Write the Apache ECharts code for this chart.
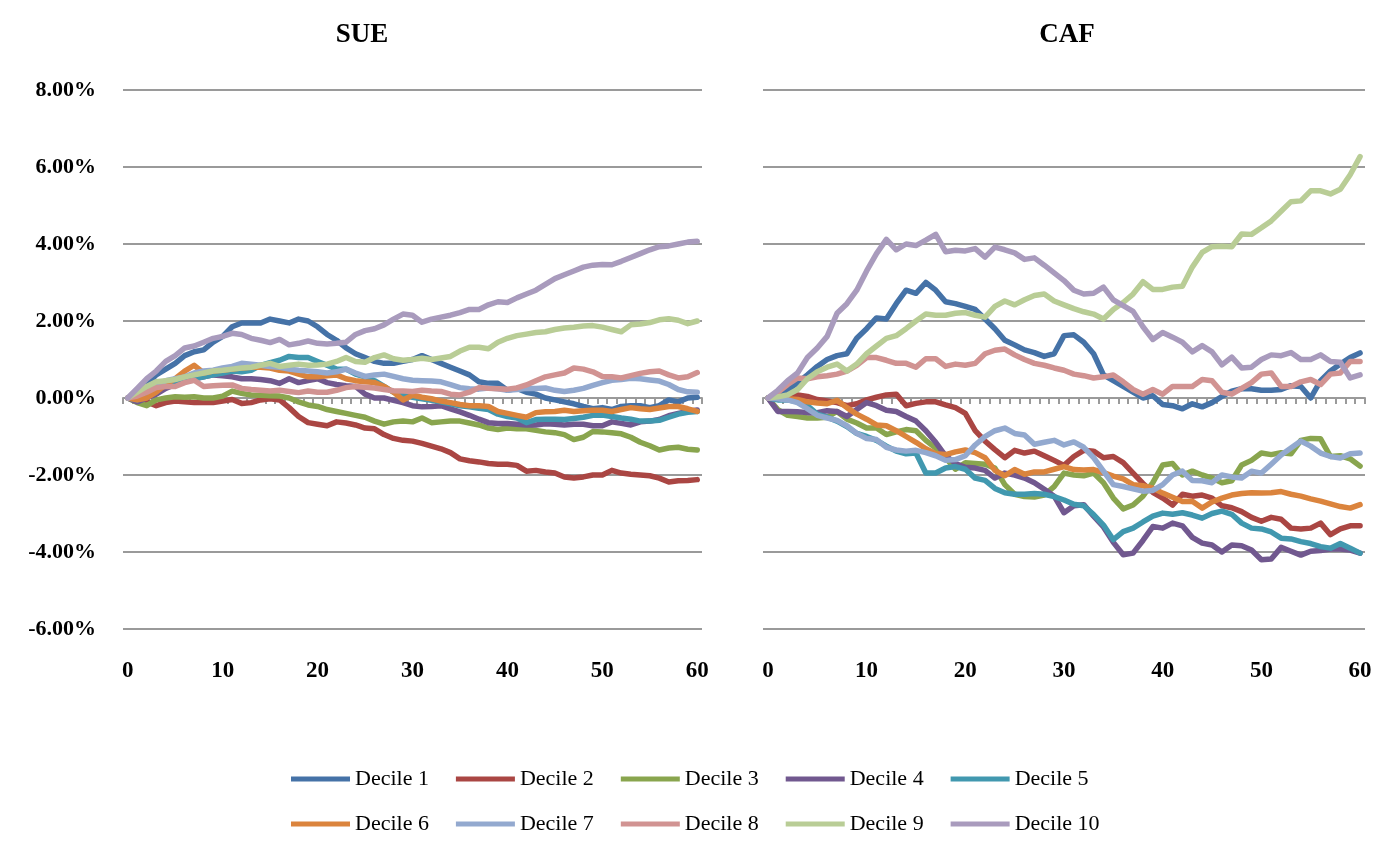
<!DOCTYPE html>
<html>
<head>
<meta charset="utf-8">
<script src="https://cdn.jsdelivr.net/npm/echarts@6/dist/echarts.min.js"></script>
<style>
html,body{margin:0;padding:0;background:#fff;}
#chart{width:1380px;height:849px;}
</style>
</head>
<body>
<div id="chart"></div>
<script>
// x categories (trading days 0..60)
const days = Array.from({length: 61}, (_, i) => String(i));
const seriesNames = ['Decile 1','Decile 2','Decile 3','Decile 4','Decile 5','Decile 6','Decile 7','Decile 8','Decile 9','Decile 10'];
const panelTitles = ['SUE', 'CAF'];
const yTicks = [-6, -4, -2, 0, 2, 4, 6, 8];

// SUE panel, cumulative returns in percent
const sueD1 = [0,0.15,0.35,0.6,0.75,0.9,1.1,1.2,1.25,1.45, 1.6,1.85,1.95,1.95,1.95,2.05,2.0,1.95,2.05,2.0, 1.85,1.65,1.5,1.3,1.15,1.05,0.95,0.9,0.9,0.95, 1.0,1.1,1.0,0.9,0.8,0.7,0.6,0.42,0.38,0.38, 0.2,0.25,0.15,0.1,0.0,-0.05,-0.1,-0.15,-0.22,-0.28, -0.25,-0.3,-0.22,-0.2,-0.2,-0.25,-0.2,-0.05,-0.1,0.0,0.02];
const sueD2 = [0,-0.05,-0.1,-0.2,-0.12,-0.08,-0.1,-0.12,-0.12,-0.12, -0.08,-0.04,-0.14,-0.12,-0.05,-0.02,-0.05,-0.25,-0.48,-0.64, -0.68,-0.72,-0.62,-0.65,-0.7,-0.78,-0.8,-0.95,-1.05,-1.1, -1.12,-1.18,-1.25,-1.32,-1.42,-1.58,-1.63,-1.66,-1.7,-1.72, -1.72,-1.75,-1.9,-1.88,-1.92,-1.95,-2.05,-2.08,-2.05,-2.0, -2.0,-1.88,-1.95,-1.98,-2.0,-2.02,-2.08,-2.18,-2.15,-2.14,-2.12];
const sueD3 = [0,-0.12,-0.2,-0.05,0.0,0.03,0.02,0.03,0.0,0.0, 0.05,0.18,0.12,0.08,0.07,0.06,0.05,0.0,-0.1,-0.18, -0.22,-0.3,-0.35,-0.4,-0.45,-0.5,-0.6,-0.68,-0.62,-0.6, -0.62,-0.52,-0.64,-0.62,-0.6,-0.6,-0.65,-0.7,-0.78,-0.82, -0.78,-0.8,-0.8,-0.84,-0.88,-0.9,-0.95,-1.08,-1.02,-0.87, -0.88,-0.9,-0.93,-1.02,-1.15,-1.24,-1.35,-1.3,-1.28,-1.33,-1.35];
const sueD4 = [0,-0.1,0.0,0.1,0.25,0.35,0.42,0.5,0.55,0.6, 0.58,0.55,0.5,0.5,0.48,0.45,0.38,0.5,0.4,0.45, 0.5,0.4,0.35,0.32,0.3,0.1,0.0,0.0,-0.06,-0.12, -0.2,-0.23,-0.22,-0.2,-0.28,-0.36,-0.45,-0.55,-0.64,-0.66, -0.66,-0.68,-0.7,-0.7,-0.67,-0.68,-0.7,-0.68,-0.68,-0.72, -0.72,-0.62,-0.66,-0.7,-0.62,-0.6,-0.56,-0.46,-0.4,-0.35,-0.31];
const sueD5 = [0,-0.05,0.05,0.2,0.35,0.45,0.45,0.5,0.55,0.6, 0.65,0.7,0.68,0.72,0.85,0.92,0.98,1.08,1.05,1.05, 0.95,0.85,0.75,0.75,0.62,0.55,0.45,0.3,0.15,0.07, 0.02,-0.02,-0.06,-0.1,-0.15,-0.2,-0.23,-0.27,-0.3,-0.42, -0.48,-0.52,-0.64,-0.56,-0.55,-0.55,-0.56,-0.53,-0.5,-0.45, -0.44,-0.48,-0.52,-0.55,-0.6,-0.6,-0.58,-0.5,-0.42,-0.37,-0.35];
const sueD6 = [0,-0.05,0.0,0.15,0.35,0.5,0.7,0.85,0.65,0.7, 0.72,0.75,0.78,0.8,0.8,0.78,0.72,0.7,0.62,0.55, 0.55,0.58,0.6,0.5,0.45,0.42,0.4,0.3,0.15,-0.05, 0.07,0.02,-0.02,-0.08,-0.12,-0.17,-0.2,-0.2,-0.22,-0.35, -0.4,-0.45,-0.5,-0.38,-0.36,-0.35,-0.32,-0.35,-0.33,-0.32, -0.32,-0.35,-0.3,-0.25,-0.28,-0.3,-0.26,-0.22,-0.22,-0.28,-0.35];
const sueD7 = [0,0.1,0.2,0.35,0.45,0.5,0.55,0.65,0.7,0.72, 0.78,0.82,0.9,0.88,0.85,0.82,0.8,0.75,0.72,0.7, 0.68,0.65,0.68,0.75,0.65,0.56,0.6,0.62,0.56,0.5, 0.46,0.45,0.44,0.42,0.35,0.27,0.24,0.23,0.26,0.24, 0.2,0.22,0.25,0.25,0.26,0.2,0.17,0.2,0.25,0.33, 0.4,0.46,0.48,0.51,0.5,0.47,0.44,0.35,0.22,0.16,0.15];
const sueD8 = [0,0.05,0.15,0.27,0.3,0.3,0.4,0.46,0.3,0.32, 0.33,0.34,0.25,0.22,0.2,0.18,0.2,0.17,0.14,0.18, 0.15,0.15,0.2,0.27,0.3,0.28,0.26,0.22,0.19,0.18, 0.17,0.2,0.18,0.17,0.1,0.08,0.15,0.27,0.25,0.24, 0.23,0.26,0.34,0.45,0.55,0.6,0.65,0.78,0.75,0.68, 0.56,0.55,0.52,0.58,0.64,0.68,0.7,0.6,0.52,0.55,0.66];
const sueD9 = [0,0.15,0.3,0.42,0.45,0.48,0.55,0.6,0.65,0.7, 0.72,0.75,0.78,0.8,0.85,0.9,0.82,0.85,0.88,0.85, 0.86,0.88,0.95,1.05,0.95,0.93,1.05,1.12,1.02,0.98, 1.0,1.03,1.0,1.04,1.08,1.22,1.32,1.32,1.28,1.45, 1.55,1.62,1.66,1.7,1.72,1.78,1.82,1.84,1.87,1.88, 1.84,1.78,1.72,1.9,1.92,1.96,2.03,2.06,2.02,1.93,2.0];
const sueD10 = [0,0.25,0.5,0.7,0.95,1.1,1.3,1.35,1.45,1.55, 1.6,1.68,1.65,1.55,1.5,1.44,1.52,1.38,1.42,1.48, 1.42,1.4,1.42,1.45,1.65,1.75,1.8,1.9,2.05,2.18, 2.15,1.97,2.05,2.1,2.15,2.22,2.3,2.3,2.42,2.5, 2.48,2.6,2.7,2.8,2.95,3.1,3.2,3.3,3.4,3.45, 3.47,3.46,3.55,3.65,3.75,3.85,3.93,3.95,4.0,4.05,4.07];

// CAF panel, cumulative returns in percent
const cafD1 = [0,0.1,0.2,0.4,0.6,0.82,1.0,1.1,1.15,1.55, 1.8,2.08,2.05,2.45,2.8,2.72,3.0,2.8,2.5,2.45, 2.38,2.3,2.05,1.8,1.5,1.38,1.25,1.18,1.08,1.15, 1.62,1.64,1.45,1.15,0.6,0.45,0.3,0.15,0.0,0.06, -0.17,-0.2,-0.28,-0.15,-0.23,-0.12,0.04,0.18,0.24,0.24, 0.2,0.2,0.22,0.32,0.3,0.0,0.45,0.7,0.88,1.05,1.17];
const cafD2 = [0,0.02,0.05,0.08,0.04,-0.04,-0.08,-0.12,-0.2,-0.15, -0.05,0.02,0.08,0.1,-0.2,-0.14,-0.1,-0.1,-0.18,-0.25, -0.4,-0.85,-1.12,-1.34,-1.55,-1.36,-1.43,-1.38,-1.5,-1.62, -1.75,-1.52,-1.36,-1.38,-1.55,-1.52,-1.68,-1.95,-2.22,-2.45, -2.6,-2.78,-2.5,-2.55,-2.52,-2.6,-2.8,-2.85,-2.95,-3.1, -3.2,-3.1,-3.15,-3.38,-3.4,-3.38,-3.25,-3.55,-3.4,-3.32,-3.32];
const cafD3 = [0,-0.3,-0.45,-0.48,-0.52,-0.52,-0.5,-0.35,-0.55,-0.65, -0.78,-0.78,-0.95,-0.88,-0.82,-0.85,-1.1,-1.3,-1.55,-1.85, -1.68,-1.7,-1.72,-1.82,-2.25,-2.5,-2.56,-2.57,-2.52,-2.3, -1.95,-2.0,-2.02,-1.95,-2.2,-2.6,-2.88,-2.78,-2.55,-2.2, -1.74,-1.7,-2.0,-1.9,-2.0,-2.08,-2.2,-2.15,-1.74,-1.62, -1.43,-1.47,-1.42,-1.45,-1.1,-1.05,-1.06,-1.52,-1.5,-1.58,-1.77];
const cafD4 = [0,-0.35,-0.35,-0.36,-0.38,-0.38,-0.33,-0.35,-0.48,-0.3, -0.12,-0.2,-0.32,-0.35,-0.48,-0.6,-0.85,-1.15,-1.5,-1.7, -1.8,-1.82,-1.88,-2.08,-1.95,-2.0,-2.08,-2.2,-2.37,-2.55, -2.98,-2.8,-2.77,-3.07,-3.35,-3.75,-4.07,-4.03,-3.7,-3.34, -3.38,-3.25,-3.32,-3.62,-3.77,-3.82,-4.0,-3.82,-3.84,-3.95, -4.2,-4.18,-3.88,-3.98,-4.08,-3.98,-3.96,-3.92,-3.92,-3.95,-4.03];
const cafD5 = [0,-0.05,-0.05,-0.1,-0.2,-0.42,-0.5,-0.6,-0.74,-0.92, -1.0,-1.1,-1.25,-1.38,-1.45,-1.43,-1.95,-1.95,-1.82,-1.78, -1.85,-2.08,-2.14,-2.35,-2.46,-2.5,-2.5,-2.48,-2.5,-2.56, -2.65,-2.76,-2.8,-3.03,-3.3,-3.68,-3.47,-3.38,-3.22,-3.07, -2.99,-3.02,-2.98,-3.04,-3.12,-3.0,-2.94,-3.02,-3.25,-3.38, -3.4,-3.48,-3.64,-3.66,-3.73,-3.78,-3.86,-3.9,-3.78,-3.9,-4.03];
const cafD6 = [0,0.0,-0.02,-0.04,-0.1,-0.13,-0.15,-0.06,-0.25,-0.42, -0.55,-0.7,-0.72,-0.85,-1.0,-1.15,-1.32,-1.45,-1.47,-1.4, -1.35,-1.42,-1.55,-1.88,-2.02,-1.86,-1.98,-1.92,-1.92,-1.85, -1.78,-1.86,-1.87,-1.86,-1.94,-2.03,-2.1,-2.25,-2.28,-2.34, -2.47,-2.58,-2.69,-2.68,-2.86,-2.7,-2.6,-2.52,-2.48,-2.46, -2.47,-2.46,-2.43,-2.5,-2.55,-2.62,-2.68,-2.75,-2.82,-2.86,-2.77];
const cafD7 = [0,-0.02,-0.05,-0.12,-0.28,-0.45,-0.52,-0.58,-0.72,-0.92, -1.05,-1.08,-1.28,-1.35,-1.38,-1.36,-1.42,-1.5,-1.62,-1.6, -1.5,-1.22,-1.0,-0.85,-0.78,-0.92,-0.96,-1.2,-1.15,-1.1, -1.22,-1.14,-1.28,-1.55,-1.9,-2.25,-2.3,-2.36,-2.42,-2.4, -2.25,-2.0,-1.9,-2.14,-2.15,-2.2,-2.0,-2.05,-2.08,-1.9, -1.95,-1.72,-1.48,-1.3,-1.12,-1.25,-1.43,-1.52,-1.56,-1.45,-1.43];
const cafD8 = [0,0.15,0.35,0.52,0.5,0.55,0.58,0.62,0.7,0.85, 1.05,1.05,0.98,0.9,0.9,0.8,1.02,1.02,0.82,0.88, 0.85,0.9,1.15,1.24,1.27,1.12,1.0,0.9,0.85,0.78, 0.72,0.62,0.58,0.52,0.55,0.6,0.42,0.22,0.1,0.22, 0.1,0.3,0.3,0.3,0.48,0.45,0.15,0.1,0.25,0.4, 0.62,0.65,0.3,0.3,0.42,0.48,0.35,0.62,0.65,0.95,0.95];
const cafD9 = [0,0.03,0.08,0.22,0.5,0.68,0.8,0.88,0.7,0.88, 1.15,1.35,1.55,1.62,1.8,2.0,2.18,2.15,2.15,2.2, 2.22,2.15,2.1,2.38,2.52,2.42,2.55,2.66,2.7,2.52, 2.42,2.32,2.24,2.18,2.05,2.3,2.48,2.7,3.02,2.82, 2.82,2.88,2.9,3.4,3.78,3.93,3.94,3.93,4.26,4.25, 4.42,4.6,4.85,5.1,5.12,5.38,5.38,5.3,5.42,5.8,6.27];
const cafD10 = [0,0.2,0.45,0.65,1.05,1.3,1.6,2.2,2.45,2.8, 3.3,3.75,4.12,3.85,4.0,3.96,4.1,4.25,3.8,3.84, 3.82,3.88,3.66,3.92,3.85,3.77,3.6,3.64,3.45,3.25, 3.05,2.8,2.7,2.72,2.88,2.55,2.4,2.25,1.85,1.52, 1.7,1.58,1.45,1.2,1.36,1.2,0.86,1.06,0.78,0.8, 1.0,1.12,1.1,1.18,1.0,1.0,1.12,0.95,0.93,0.52,0.6];

const sueData = [sueD1,sueD2,sueD3,sueD4,sueD5,sueD6,sueD7,sueD8,sueD9,sueD10];
const cafData = [cafD1,cafD2,cafD3,cafD4,cafD5,cafD6,cafD7,cafD8,cafD9,cafD10];
const colors = ['#4572A7','#AA4643','#89A54E','#71588F','#4198AF','#DB843D','#93A9CF','#D19392','#B9CD96','#A99BBD'];

const SERIF = '"Liberation Serif", "Times New Roman", serif';
const chart = echarts.init(document.getElementById('chart'));

function labelAxis(grid) {
  return {
    type: 'category', gridIndex: grid, data: days, position: 'bottom', boundaryGap: true,
    axisLine: {show: false, onZero: false}, axisTick: {show: false},
    axisLabel: {interval: 9, margin: 31, fontFamily: SERIF, fontWeight: 'bold', fontSize: 23, color: '#000'},
    splitLine: {show: false}
  };
}
function zeroAxis(grid) {
  return {
    type: 'category', gridIndex: grid, data: days, position: 'top', boundaryGap: true,
    axisLine: {show: true, onZero: true, lineStyle: {color: '#9A9A9A', width: 2}},
    axisTick: {show: true, inside: true, interval: 0, length: 6, lineStyle: {color: '#9A9A9A', width: 2}},
    axisLabel: {show: false}, splitLine: {show: false}
  };
}
function yAxis(grid, showLabels) {
  return {
    type: 'value', gridIndex: grid, min: yTicks[0], max: yTicks[yTicks.length - 1], interval: 2,
    axisLine: {show: false}, axisTick: {show: false},
    axisLabel: {show: showLabels, margin: 27, fontFamily: SERIF, fontWeight: 'bold', fontSize: 22, color: '#000',
      formatter: v => v.toFixed(2) + '%'},
    splitLine: {show: true, lineStyle: {color: '#9A9A9A', width: 2}}
  };
}

const series = [];
[sueData, cafData].forEach((panel, p) => {
  panel.forEach((vals, k) => {
    series.push({
      name: seriesNames[k], type: 'line', xAxisIndex: p * 2, yAxisIndex: p,
      data: vals, symbol: 'none', smooth: false,
      lineStyle: {width: 5.5, color: colors[k], cap: 'round', join: 'round'}, itemStyle: {color: colors[k]},
      emphasis: {disabled: true}
    });
  });
});

const legendBase = {
  orient: 'horizontal', left: 291, padding: 0, icon: 'rect', itemWidth: 59, itemHeight: 5, itemGap: 27,
  textStyle: {fontFamily: SERIF, fontSize: 22, color: '#000'}
};

chart.setOption({
  animation: false,
  backgroundColor: '#fff',
  color: colors,
  title: [
    {text: panelTitles[0], left: 362, top: 22, textAlign: 'center', padding: 0,
      textStyle: {fontFamily: SERIF, fontWeight: 'bold', fontSize: 27, color: '#000'}},
    {text: panelTitles[1], left: 1067, top: 22, textAlign: 'center', padding: 0,
      textStyle: {fontFamily: SERIF, fontWeight: 'bold', fontSize: 27, color: '#000'}}
  ],
  legend: [
    Object.assign({}, legendBase, {top: 768, data: seriesNames.slice(0, 5)}),
    Object.assign({}, legendBase, {top: 813, data: seriesNames.slice(5)})
  ],
  grid: [
    {left: 123, top: 90, width: 579, height: 539},
    {left: 763, top: 90, width: 602, height: 539}
  ],
  xAxis: [labelAxis(0), zeroAxis(0), labelAxis(1), zeroAxis(1)],
  yAxis: [yAxis(0, true), yAxis(1, false)],
  series: series
});
</script>
</body>
</html>
